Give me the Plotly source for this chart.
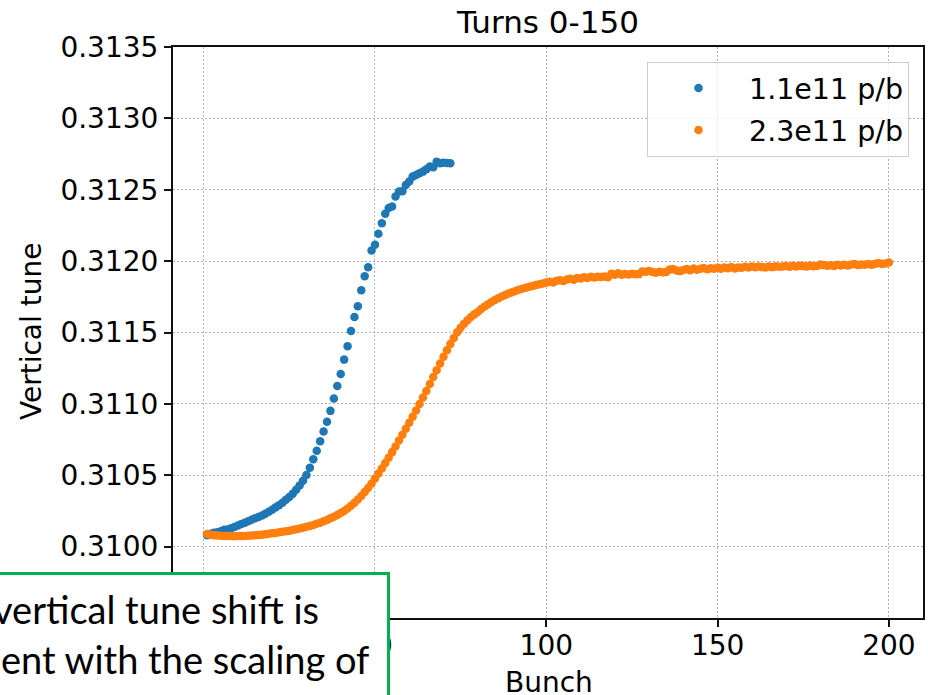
import plotly.graph_objects as go

# ---------------- data ----------------
bunch_low = list(range(1, 73))
tune_low = [
    0.310080, 0.310090, 0.310098, 0.310100, 0.310108, 0.310118, 0.310120, 0.310128, 0.310138, 0.310148,
    0.310158, 0.310168, 0.310178, 0.310188, 0.310198, 0.310208, 0.310218, 0.310230, 0.310245, 0.310258,
    0.310275, 0.310290, 0.310308, 0.310328, 0.310348, 0.310370, 0.310398, 0.310428, 0.310462, 0.310502,
    0.310552, 0.310612, 0.310672, 0.310738, 0.310807, 0.310874, 0.310951, 0.311038, 0.311126, 0.311210,
    0.311310, 0.311403, 0.311510, 0.311608, 0.311684, 0.311796, 0.311894, 0.311957, 0.312075, 0.312115,
    0.312192, 0.312265, 0.312332, 0.312372, 0.312383, 0.312453, 0.312487, 0.312490, 0.312534, 0.312557,
    0.312592, 0.312604, 0.312616, 0.312627, 0.312644, 0.312662, 0.312658, 0.312697, 0.312686, 0.312690,
    0.312688, 0.312686,
]

bunch_high = list(range(1, 201))
tune_high = [
    0.310088, 0.310083, 0.310080, 0.310078, 0.310076, 0.310075, 0.310074, 0.310074, 0.310073, 0.310074,
    0.310074, 0.310075, 0.310076, 0.310078, 0.310080, 0.310082, 0.310084, 0.310087, 0.310090, 0.310093,
    0.310096, 0.310100, 0.310104, 0.310108, 0.310112, 0.310117, 0.310122, 0.310127, 0.310133, 0.310139,
    0.310145, 0.310152, 0.310160, 0.310168, 0.310177, 0.310187, 0.310198, 0.310210, 0.310222, 0.310235,
    0.310250, 0.310267, 0.310286, 0.310307, 0.310330, 0.310355, 0.310382, 0.310411, 0.310443, 0.310477,
    0.310512, 0.310548, 0.310585, 0.310623, 0.310662, 0.310702, 0.310743, 0.310784, 0.310825, 0.310867,
    0.310910, 0.310954, 0.310999, 0.311045, 0.311091, 0.311140, 0.311188, 0.311236, 0.311283, 0.311330,
    0.311376, 0.311420, 0.311462, 0.311502, 0.311533, 0.311561, 0.311586, 0.311608, 0.311627, 0.311644,
    0.311664, 0.311682, 0.311698, 0.311713, 0.311727, 0.311740, 0.311752, 0.311763, 0.311773, 0.311782,
    0.311791, 0.311799, 0.311806, 0.311813, 0.311820, 0.311826, 0.311832, 0.311838, 0.311844, 0.311850,
    0.311856, 0.311850, 0.311862, 0.311866, 0.311860, 0.311872, 0.311877, 0.311870, 0.311882, 0.311878,
    0.311887, 0.311882, 0.311890, 0.311885, 0.311890, 0.311888, 0.311893, 0.311887, 0.311912, 0.311905,
    0.311915, 0.311904, 0.311910, 0.311906, 0.311912, 0.311908, 0.311909, 0.311927, 0.311925, 0.311930,
    0.311924, 0.311918, 0.311926, 0.311922, 0.311924, 0.311942, 0.311944, 0.311935, 0.311930, 0.311938,
    0.311944, 0.311936, 0.311948, 0.311940, 0.311946, 0.311952, 0.311943, 0.311950, 0.311947, 0.311953,
    0.311946, 0.311955, 0.311950, 0.311958, 0.311949, 0.311956, 0.311953, 0.311960, 0.311955, 0.311962,
    0.311957, 0.311963, 0.311958, 0.311955, 0.311962, 0.311958, 0.311964, 0.311960, 0.311962, 0.311966,
    0.311961, 0.311967, 0.311963, 0.311968, 0.311965, 0.311962, 0.311969, 0.311964, 0.311966, 0.311976,
    0.311972, 0.311968, 0.311971, 0.311966, 0.311974, 0.311970, 0.311975, 0.311969, 0.311976, 0.311980,
    0.311972, 0.311977, 0.311974, 0.311979, 0.311975, 0.311982, 0.311986, 0.311980, 0.311984, 0.311990,
]

series_names = ["1.1e11 p/b", "2.3e11 p/b"]
x_ticks = [0, 50, 100, 150, 200]
y_ticks = [0.3100, 0.3105, 0.3110, 0.3115, 0.3120, 0.3125, 0.3130, 0.3135]
title_text = "Turns 0-150"
x_title = "Bunch"
y_title = "Vertical tune"
note_lines = ["vertical tune shift is", "ent with the scaling of"]

# ---------------- layout geometry ----------------
W, H = 928, 695
L, R, T, B = 173, 5, 47, 77
PW, PH = W - L - R, H - T - B


def px_x(px):
    return (px - L) / PW


def px_y(py):
    return (H - B - py) / PH


FONT = "DejaVu Sans"

fig = go.Figure()
fig.add_trace(go.Scatter(
    x=bunch_low, y=tune_low, mode="markers", name=series_names[0],
    legendgroup="a",
    marker=dict(color="#1f77b4", size=8.5, line=dict(width=0)),
))
fig.add_trace(go.Scatter(
    x=bunch_high, y=tune_high, mode="markers", name=series_names[1],
    legendgroup="b",
    marker=dict(color="#ff7f0e", size=8.5, line=dict(width=0)),
))

axis_common = dict(
    showline=True, mirror=True, linecolor="#111111", linewidth=2,
    ticks="outside", ticklen=7, tickwidth=1.5, tickcolor="#111111",
    showgrid=True, gridcolor="#b0b0b0", gridwidth=1, griddash="1.5px,2.5px",
    zeroline=False, automargin=False,
    tickfont=dict(family=FONT, size=28, color="black"),
)

fig.update_layout(
    width=W, height=H,
    margin=dict(l=L, r=R, t=T, b=B, pad=0, autoexpand=False),
    paper_bgcolor="white", plot_bgcolor="white",
    font=dict(family=FONT, color="black"),
    title=dict(text=title_text, x=px_x(548), xref="paper", xanchor="center",
               y=1 - 22 / H, yref="container", yanchor="middle",
               font=dict(family=FONT, size=31, color="black")),
    xaxis=dict(range=[-8.95, 209.95], tickvals=x_ticks, ticklabelstandoff=-6, **axis_common),
    yaxis=dict(range=[0.3095, 0.3135], tickvals=y_ticks, tickformat=".4f", **axis_common),
    showlegend=True,
    legend=dict(x=px_x(909), y=px_y(62), xanchor="right", yanchor="top",
                bgcolor="rgba(255,255,255,0.8)", bordercolor="#cccccc", borderwidth=1,
                font=dict(family=FONT, size=28.5, color="black"),
                itemwidth=91, tracegroupgap=2),
)

# axis titles placed as annotations (fixed pixel positions)
fig.add_annotation(text=x_title, xref="paper", yref="paper",
                   x=px_x(549), y=px_y(682), xanchor="center", yanchor="middle",
                   showarrow=False, font=dict(family=FONT, size=28, color="black"))
fig.add_annotation(text=y_title, xref="paper", yref="paper", textangle=-90,
                   x=px_x(31), y=px_y(332), xanchor="center", yanchor="middle",
                   showarrow=False, font=dict(family=FONT, size=28, color="black"))

# green text box overlay (clipped by page edges)
fig.add_shape(type="rect", xref="paper", yref="paper",
              x0=px_x(-30), x1=px_x(388.5), y0=px_y(730), y1=px_y(573.5),
              fillcolor="white", line=dict(color="#00B050", width=3), layer="above")

fig.add_annotation(text=note_lines[0], xref="paper", yref="paper",
                   x=px_x(-9), y=px_y(609), xanchor="left", yanchor="middle",
                   showarrow=False, font=dict(family="Lato", size=38, color="black"))
fig.add_annotation(text=note_lines[1], xref="paper", yref="paper",
                   x=px_x(-1), y=px_y(659), xanchor="left", yanchor="middle",
                   showarrow=False, font=dict(family="Lato", size=38, color="black"))

fig.write_html("out.html")
